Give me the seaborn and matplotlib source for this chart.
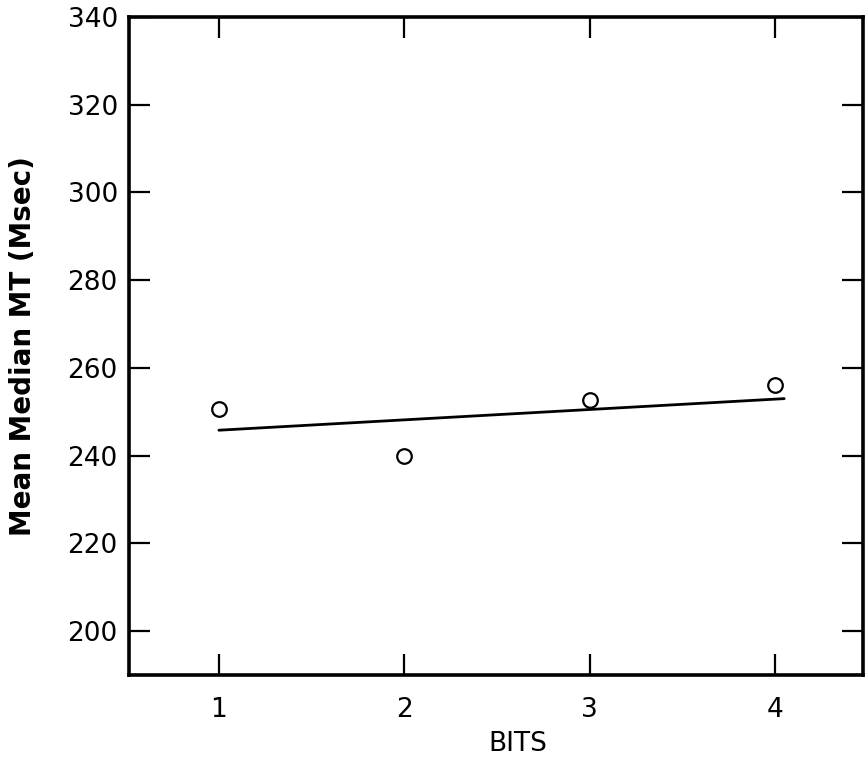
import matplotlib
matplotlib.use("Agg")
import matplotlib.pyplot as plt
import seaborn as sns
import pandas as pd

bits = [1, 2, 3, 4]
mean_median_mt = [250.6, 240.0, 252.6, 256.0]
fit_x = [1.0, 4.05]
fit_y = [245.8, 253.0]
x_ticks = [1, 2, 3, 4]
x_tick_labels = ["1", "2", "3", "4"]
y_ticks = [200, 220, 240, 260, 280, 300, 320, 340]

sns.set_theme(style="ticks")
plt.rcParams['font.family'] = ['DejaVu Sans']

df = pd.DataFrame({"BITS": bits, "MT": mean_median_mt})
fit = pd.DataFrame({"x": fit_x, "y": fit_y})

fig = plt.figure(figsize=(8.68, 7.58), dpi=100)
ax = fig.add_axes([0.1486, 0.1095, 0.9942 - 0.1486, 0.9776 - 0.1095])

sns.lineplot(data=fit, x="x", y="y", ax=ax, color="black", linewidth=2)
sns.scatterplot(data=df, x="BITS", y="MT", ax=ax, s=110, marker="o",
                facecolor="white", edgecolor="black", linewidth=1.6, zorder=3)

ax.set_xlim(0.515, 4.475)
ax.set_ylim(190, 340)
ax.set_xticks(x_ticks)
ax.set_xticklabels(x_tick_labels)
ax.set_yticks(y_ticks)

for s in ax.spines.values():
    s.set_linewidth(2.6)
    s.set_color("black")
    s.set_visible(True)

ax.tick_params(direction="in", length=15, width=1.6, top=True, right=True,
               labelsize=19, colors="black")
ax.tick_params(axis="y", pad=8)
ax.tick_params(axis="x", pad=16)
ax.set_xlabel("BITS", fontsize=19, labelpad=6, color="black")
ax.xaxis.set_label_coords(0.53, -0.085)
ax.set_ylabel("Mean Median MT (Msec)", fontsize=20, fontweight="bold",
              labelpad=22, color="black")

fig.savefig("out.png", dpi=100)
